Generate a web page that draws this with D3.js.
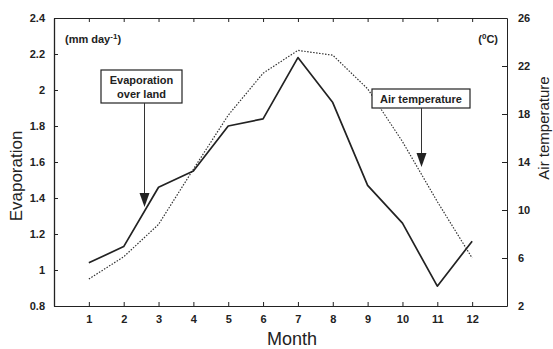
<!DOCTYPE html>
<html lang="en">
<head>
    <meta charset="UTF-8">
    <title>Evaporation and air temperature</title>
    <script src="https://d3js.org/d3.v7.min.js"></script>
    <style>
        body {
            margin: 0;
            padding: 0;
            background-color: #fff;
            overflow: hidden;
        }

        svg {
            display: block;
            font-family: "Liberation Sans", Arial, sans-serif;
        }

        .tick text {
            font-size: 11px;
            font-weight: bold;
            fill: #222;
        }

        .domain, .tick line {
            stroke: #222;
        }
    </style>
</head>
<body>
    <script>
        // Data
        const months = [1, 2, 3, 4, 5, 6, 7, 8, 9, 10, 11, 12];
        const evaporation = [1.04, 1.13, 1.46, 1.55, 1.80, 1.84, 2.18, 1.93, 1.47, 1.26, 0.91, 1.16];
        const airTemp = [4.25, 6.1, 8.8, 13.4, 17.9, 21.4, 23.3, 22.9, 20.1, 15.7, 10.7, 6.0];
        const evapTicks = [0.8, 1, 1.2, 1.4, 1.6, 1.8, 2, 2.2, 2.4];
        const tempTicks = [2, 6, 10, 14, 18, 22, 26];

        const width = 553;
        const height = 349;
        const margin = {top: 18, right: 46, bottom: 43, left: 54};

        const svg = d3.select("body").append("svg")
            .attr("width", width)
            .attr("height", height);

        const x = d3.scaleLinear()
            .domain([0, 13])
            .range([margin.left, width - margin.right]);

        const yEvap = d3.scaleLinear()
            .domain([0.8, 2.4])
            .range([height - margin.bottom, margin.top]);

        const yTemp = d3.scaleLinear()
            .domain([2, 26])
            .range([height - margin.bottom, margin.top]);

        // Axes (ticks point inward)
        svg.append("g")
            .attr("transform", `translate(0,${height - margin.bottom})`)
            .call(d3.axisBottom(x).tickValues(months).tickSizeInner(-4).tickSizeOuter(0).tickPadding(10))
            .call(g => g.selectAll(".tick text").attr("dy", "0.6em"));

        svg.append("g")
            .attr("transform", `translate(0,${margin.top})`)
            .call(d3.axisTop(x).tickValues(months).tickSizeInner(-4).tickSizeOuter(0).tickFormat(""))
            .call(g => g.select(".domain").attr("stroke-width", 1.2));

        svg.append("g")
            .attr("transform", `translate(${margin.left},0)`)
            .call(d3.axisLeft(yEvap).tickValues(evapTicks).tickSizeInner(-4).tickSizeOuter(0).tickPadding(9)
                .tickFormat(d => d3.format("~g")(d)))
            .call(g => g.select(".domain").attr("stroke-width", 1.3));

        svg.append("g")
            .attr("transform", `translate(${width - margin.right},0)`)
            .call(d3.axisRight(yTemp).tickValues(tempTicks).tickSizeInner(-5).tickSizeOuter(0).tickPadding(11))
            .call(g => g.select(".domain").attr("stroke", "#555"));

        // Series lines
        const evapLine = d3.line()
            .x((d, i) => x(months[i]))
            .y(d => yEvap(d));

        const tempLine = d3.line()
            .x((d, i) => x(months[i]))
            .y(d => yTemp(d));

        svg.append("path")
            .datum(airTemp)
            .attr("fill", "none")
            .attr("stroke", "#333")
            .attr("stroke-width", 1.2)
            .attr("stroke-dasharray", "1.5,1.5")
            .attr("d", tempLine);

        svg.append("path")
            .datum(evaporation)
            .attr("fill", "none")
            .attr("stroke", "#222")
            .attr("stroke-width", 1.7)
            .attr("stroke-linejoin", "round")
            .attr("d", evapLine);

        // Axis titles
        svg.append("text")
            .attr("transform", `translate(22,${(margin.top + height - margin.bottom) / 2 + 14}) rotate(-90)`)
            .attr("text-anchor", "middle")
            .style("font-size", "17px")
            .style("fill", "#222")
            .text("Evaporation");

        svg.append("text")
            .attr("transform", `translate(549,128) rotate(-90)`)
            .attr("text-anchor", "middle")
            .style("font-size", "15px")
            .style("fill", "#222")
            .text("Air temperature");

        svg.append("text")
            .attr("x", 292)
            .attr("y", 345)
            .attr("text-anchor", "middle")
            .style("font-size", "18px")
            .style("fill", "#222")
            .text("Month");

        // Unit labels
        const unitL = svg.append("text")
            .attr("x", 65)
            .attr("y", 43)
            .style("font-size", "11px")
            .style("font-weight", "bold")
            .style("fill", "#222");
        unitL.append("tspan").text("(mm day");
        unitL.append("tspan").attr("dy", -4).style("font-size", "8px").text("-1");
        unitL.append("tspan").attr("dy", 4).text(")");

        const unitR = svg.append("text")
            .attr("x", 498)
            .attr("y", 43)
            .attr("text-anchor", "end")
            .style("font-size", "11px")
            .style("font-weight", "bold")
            .style("fill", "#222");
        unitR.append("tspan").text("(");
        unitR.append("tspan").attr("dy", -4).style("font-size", "8px").text("0");
        unitR.append("tspan").attr("dy", 4).text("C)");

        // Annotation boxes with arrows
        function callout(x0, y0, w, h, lines, arrowX, arrowTip) {
            const g = svg.append("g");
            g.append("rect")
                .attr("x", x0).attr("y", y0)
                .attr("width", w).attr("height", h)
                .attr("fill", "#fff")
                .attr("stroke", "#222")
                .attr("stroke-width", 1.2);
            lines.forEach((t, i) => {
                g.append("text")
                    .attr("x", x0 + w / 2)
                    .attr("y", y0 + 14 + i * 14)
                    .attr("text-anchor", "middle")
                    .style("font-size", "11px")
                    .style("font-weight", "bold")
                    .style("fill", "#222")
                    .text(t);
            });
            g.append("line")
                .attr("x1", arrowX).attr("x2", arrowX)
                .attr("y1", y0 + h).attr("y2", arrowTip - 12)
                .attr("stroke", "#333")
                .attr("stroke-width", 1);
            g.append("path")
                .attr("d", `M${arrowX - 5},${arrowTip - 14} L${arrowX + 5},${arrowTip - 14} L${arrowX},${arrowTip} Z`)
                .attr("fill", "#222");
        }

        callout(101, 70, 81, 33, ["Evaporation", "over land"], 144.5, 207);
        callout(372, 89, 98, 19, ["Air temperature"], 421.5, 167);
    </script>
</body>
</html>
